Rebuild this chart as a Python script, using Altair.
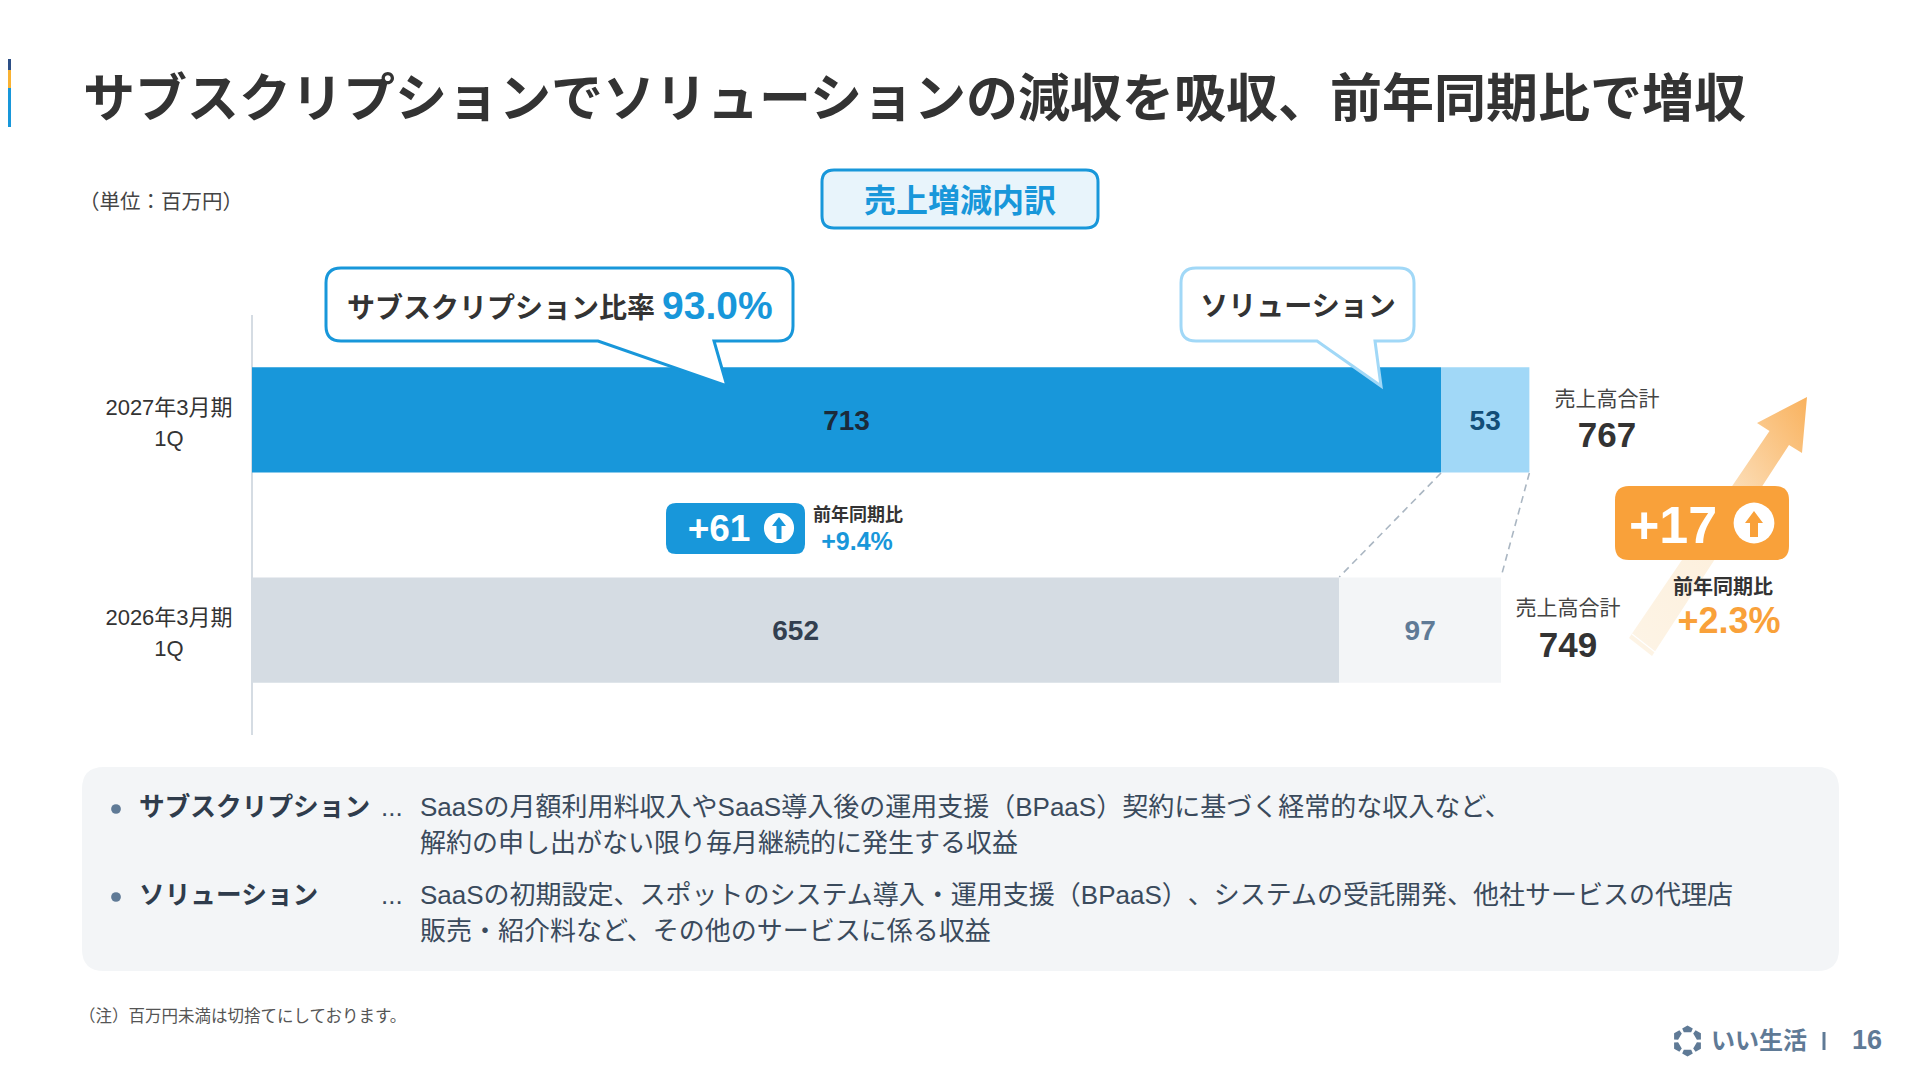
import math
import altair as alt
import pandas as pd

# ---------- data ----------
periods = ["2027年3月期\n1Q", "2026年3月期\n1Q"]
subscription = [713, 652]
solution = [53, 97]
totals = [767, 749]
total_label = "売上高合計"
sub_diff = "+61"
sub_pct = "+9.4%"
all_diff = "+17"
all_pct = "+2.3%"
sub_ratio = "93.0%"
title = "サブスクリプションでソリューションの減収を吸収、前年同期比で増収"
heading = "売上増減内訳"
unit = "（単位：百万円）"
note = "（注）百万円未満は切捨てにしております。"
yoy = "前年同期比"
desc_rows = [
    ("サブスクリプション", "SaaSの月額利用料収入やSaaS導入後の運用支援（BPaaS）契約に基づく経常的な収入など、", "解約の申し出がない限り毎月継続的に発生する収益"),
    ("ソリューション", "SaaSの初期設定、スポットのシステム導入・運用支援（BPaaS）\u200b、システムの受託開発、他社サービスの代理店", "販売・紹介料など、その他のサービスに係る収益"),
]

FONT = "Liberation Sans, Noto Sans CJK JP"
BLUE, LBLUE, GREY, LGREY = "#1897da", "#a1d8f7", "#d5dce3", "#f3f5f7"
ORANGE = "#f9a13a"
SLATE = "#5f7a96"
INK = "#333333"

W, H = 1904, 1064
PX0, PPU = 252, 1.6676   # page px of value 0, px per million yen
xs = alt.Scale(domain=[-(PX0 - 8) / PPU, (W - (PX0 - 8)) / PPU], range=[0, W], nice=False, zero=False)
ys = alt.Scale(domain=periods, range=[359.3, 674.7], paddingInner=0.5, paddingOuter=0)

one = alt.Data(values=[{}])

# helpers: all take page coordinates
def T(x, y, s, size, color=INK, weight="normal", align="center", base="middle"):
    return alt.Chart(one).mark_text(text=s, font=FONT, fontSize=size, color=color, fontWeight=weight,
                                    align=align, baseline=base).encode(x=alt.value(x - 8), y=alt.value(y - 8))

def P(points_path, fill, stroke=None, sw=0, gradient=None):
    kw = dict(shape=points_path, size=4, filled=True, opacity=1, fill=gradient if gradient else fill)
    if stroke:
        kw.update(stroke=stroke, strokeWidth=sw)
    else:
        kw.update(strokeWidth=0)
    return alt.Chart(one).mark_point(**kw).encode(x=alt.value(0), y=alt.value(0))

def f(x, y):
    return f"{x - 8:.1f},{y - 8:.1f}"

def rr(x0, y0, x1, y1, r, tail=None):
    d = f"M{f(x0 + r, y0)}L{f(x1 - r, y0)}Q{f(x1, y0)} {f(x1, y0 + r)}L{f(x1, y1 - r)}Q{f(x1, y1)} {f(x1 - r, y1)}"
    if tail:
        tl, tr, tx, ty = tail
        d += f"L{f(tr, y1)}L{f(tx, ty)}L{f(tl, y1)}"
    d += f"L{f(x0 + r, y1)}Q{f(x0, y1)} {f(x0, y1 - r)}L{f(x0, y0 + r)}Q{f(x0, y0)} {f(x0 + r, y0)}Z"
    return d

def poly(pts):
    return "M" + "L".join(f(x, y) for x, y in pts) + "Z"

def circle(x, y, r, color):
    return alt.Chart(one).mark_circle(size=math.pi * r * r, color=color, opacity=1).encode(
        x=alt.value(x - 8), y=alt.value(y - 8))

def up(cx, top, bottom, hw, sw, headb):
    return poly([(cx, top), (cx + hw, headb), (cx + sw, headb), (cx + sw, bottom),
                 (cx - sw, bottom), (cx - sw, headb), (cx - hw, headb)])

# ---------- bars ----------
rows = []
for p, a, b in zip(periods, subscription, solution):
    rows.append(dict(period=p, series="sub", key=p + "sub", start=0, end=a, mid=a / 2, label=a))
    rows.append(dict(period=p, series="sol", key=p + "sol", start=a, end=a + b, mid=a + b / 2, label=b))
bars_df = pd.DataFrame(rows)
keys = [periods[0] + "sub", periods[0] + "sol", periods[1] + "sub", periods[1] + "sol"]

bars = alt.Chart(bars_df).mark_bar(opacity=1).encode(
    x=alt.X("start:Q", scale=xs, axis=None),
    x2="end:Q",
    y=alt.Y("period:N", scale=ys, axis=None, sort=periods),
    color=alt.Color("key:N", scale=alt.Scale(domain=keys, range=[BLUE, LBLUE, GREY, LGREY]), legend=None),
)

layers = []
# corner stripe
layers += [P(poly([(-2, 59), (11, 59), (11, 70), (-2, 70)]), "#2d4f86"),
           P(poly([(-2, 70), (11, 70), (11, 88), (-2, 88)]), "#f9b233"),
           P(poly([(-2, 88), (11, 88), (11, 127), (-2, 127)]), BLUE)]
# title, heading, unit
layers.append(T(83, 101, title, 52, INK, "bold", "left"))
layers.append(P(rr(822, 170, 1098, 228, 12), "#e8f4fb", BLUE, 3))
layers.append(T(960, 202, heading, 32, BLUE, "bold"))
layers.append(T(79, 203, unit, 20.5, "#444444", "normal", "left"))
# axis line
layers.append(alt.Chart(one).mark_rule(color=GREY, strokeWidth=2).encode(
    x=alt.X(datum=0, type="quantitative", scale=xs, axis=None), y=alt.value(315 - 8), y2=alt.value(735 - 8)))
layers.append(bars)

# connectors
conn_df = pd.DataFrame(dict(a=[subscription[0], subscription[0] + solution[0]],
                            b=[subscription[1], subscription[1] + solution[1]]))
layers.append(alt.Chart(conn_df).mark_rule(color="#aab6c2", strokeWidth=1.6, strokeDash=[7, 5]).encode(
    x=alt.X("a:Q", scale=xs, axis=None), x2="b:Q", y=alt.value(473 - 8), y2=alt.value(577 - 8)))

# bar value labels, one colour per bar
for k, col in zip(keys, ["#1b2a3a", "#124e78", "#333f50", SLATE]):
    layers.append(alt.Chart(bars_df[bars_df.key == k]).mark_text(
        font=FONT, fontSize=28, fontWeight="bold", color=col, dy=2).encode(
        x=alt.X("mid:Q", scale=xs, axis=None),
        y=alt.Y("period:N", scale=ys, axis=None, sort=periods),
        text="label:N"))

# period labels
layers.append(alt.Chart(pd.DataFrame(dict(period=periods))).mark_text(
    font=FONT, fontSize=22, color=INK, lineBreak="\n", lineHeight=31, dy=-12).encode(
    x=alt.value(169 - 8),
    y=alt.Y("period:N", scale=ys, axis=None, sort=periods),
    text="period:N"))

# callouts
layers.append(P(rr(326, 268, 793, 341, 15, (598, 714, 727, 386)), "white", BLUE, 3))
layers.append(T(347, 310, "サブスクリプション比率", 28, INK, "bold", "left"))
layers.append(T(662, 307, sub_ratio, 39, BLUE, "bold", "left"))
layers.append(P(rr(1181, 268, 1414, 341, 15, (1317, 1375, 1381, 386)), "white", LBLUE, 3))
layers.append(T(1298, 308, "ソリューション", 28, INK, "bold"))

# subscription delta
layers.append(P(rr(666, 503, 805, 554, 10), BLUE))
layers.append(T(719, 530, sub_diff, 37, "white", "bold"))
layers.append(circle(779, 528, 17, "white"))
layers.append(P(up(779, 517, 539, 7, 2.5, 526), BLUE))
layers.append(T(858, 516, yoy, 18, INK, "bold"))
layers.append(T(857, 542, sub_pct, 25, BLUE, "bold"))

# totals
layers.append(T(1607, 400, total_label, 21, "#444444"))
layers.append(T(1607, 436, str(totals[0]), 35, INK, "bold"))
layers.append(T(1568, 609, total_label, 21, "#444444"))
layers.append(T(1568, 646, str(totals[1]), 35, INK, "bold"))

# big arrow
grad = alt.LinearGradient(gradient="linear", x1=0, y1=1, x2=1, y2=0, stops=[
    alt.GradientStop(color="#fdf4e6", offset=0), alt.GradientStop(color="#fdf0dd", offset=0.45),
    alt.GradientStop(color="#f9b25e", offset=1)])
layers.append(P(poly([(1807, 397), (1802, 453), (1789, 445), (1652, 656), (1629, 638),
                      (1769.5, 431), (1757, 423)]), None, gradient=grad))
layers.append(alt.Chart(one).mark_rule(color="white", strokeWidth=1.2).encode(
    x=alt.value(1632 - 8), x2=alt.value(1655 - 8), y=alt.value(634 - 8), y2=alt.value(652 - 8)))

# total delta
layers.append(P(rr(1615, 486, 1789, 560, 14), ORANGE))
layers.append(T(1673, 527, all_diff, 52, "white", "bold"))
layers.append(circle(1754, 523, 23, "white"))
layers.append(P(up(1754, 511, 537, 9, 4, 523), ORANGE))
layers.append(T(1723, 588, yoy, 20, INK, "bold"))
layers.append(T(1729, 622, all_pct, 36, ORANGE, "bold"))

# description panel
layers.append(P(rr(82, 767, 1839, 971, 22), LGREY))
for (name, l1, l2), y1, y2 in zip(desc_rows, (808, 896), (844, 932)):
    layers.append(circle(116, y1 + 1, 5.5, SLATE))
    layers.append(T(139, y1, name, 25.7, "#2f3c4c", "bold", "left"))
    layers.append(T(381, y1, "...", 26, "#3a4a5c", "normal", "left"))
    layers.append(T(420, y1, l1, 26, "#3a4a5c", "normal", "left"))
    layers.append(T(420, y2, l2, 26, "#3a4a5c", "normal", "left"))

# footnote + footer
layers.append(T(79, 1017, note, 16.5, "#555555", "normal", "left"))
cx, cy = 1687.5, 1041
logo = ""
for k in range(6):
    a = math.radians(k * 60 - 90)
    d = math.radians(23)
    pts = [(cx + 13.5 * math.cos(a - d), cy + 13.5 * math.sin(a - d)),
           (cx + 15.5 * math.cos(a), cy + 15.5 * math.sin(a)),
           (cx + 13.5 * math.cos(a + d), cy + 13.5 * math.sin(a + d)),
           (cx + 9.5 * math.cos(a + d), cy + 9.5 * math.sin(a + d)),
           (cx + 9.5 * math.cos(a - d), cy + 9.5 * math.sin(a - d))]
    logo += poly(pts)
layers.append(P(logo, SLATE))
layers.append(T(1711, 1042, "いい生活", 24, SLATE, "bold", "left"))
layers.append(alt.Chart(one).mark_rule(color=SLATE, strokeWidth=3).encode(
    x=alt.value(1824 - 8), y=alt.value(1032 - 8), y2=alt.value(1050 - 8)))
layers.append(T(1867, 1041, "16", 27, SLATE, "bold"))

chart = alt.layer(*layers).properties(
    width=W, height=H, padding=0, autosize=alt.AutoSizeParams(type="none"), background="white"
).configure_view(stroke=None)

chart.save("out.html", embed_options={"renderer": "svg", "actions": False})
